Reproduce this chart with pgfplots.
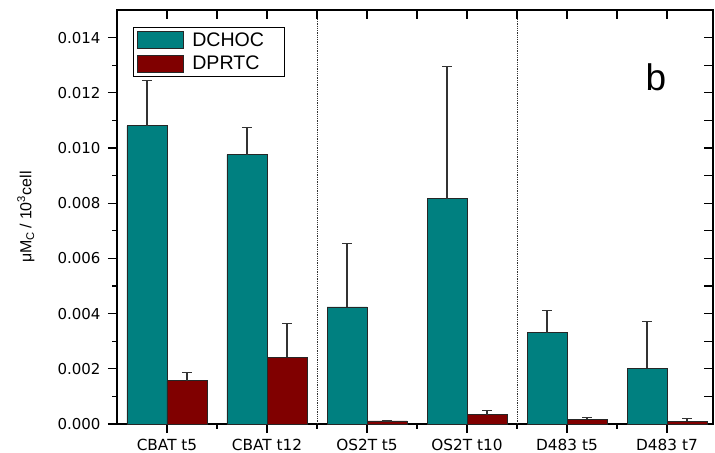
\documentclass[border=0pt]{standalone}
\usepackage{fontspec}
\setmainfont{DejaVu Sans}
\newfontfamily\arial{Liberation Sans}
\usepackage{pgfplots}
\pgfplotsset{compat=1.18}
\definecolor{tealbar}{HTML}{008080}
\definecolor{redbar}{HTML}{800000}
\begin{document}
\begin{tikzpicture}
\path[use as bounding box] (-117bp,-29bp) rectangle (598bp,424bp);
\begin{axis}[
  at={(0,0)}, anchor=south west,
  scale only axis, width=596bp, height=414bp,
  xmin=-0.5, xmax=5.46, ymin=0, ymax=0.015,
  axis line style={line width=1.3bp},
  tick style={line width=1.2bp, black},
  tick align=outside,
  major tick length=9bp, minor tick length=4.5bp,
  xtick pos=bottom, ytick pos=left,
  xtick={0,1,2,3,4,5},
  xticklabels={CBAT t5, CBAT t12, OS2T t5, OS2T t10, D483 t5, D483 t7},
  minor xtick={0.5,1.5,2.5,3.5,4.5},
  ytick={0,0.002,0.004,0.006,0.008,0.010,0.012,0.014},
  minor ytick={0.001,0.003,0.005,0.007,0.009,0.011,0.013},
  scaled y ticks=false,
  /pgf/number format/assume math mode=true,
  yticklabel style={/pgf/number format/fixed, /pgf/number format/fixed zerofill, /pgf/number format/precision=3, xshift=-4bp, font=\fontsize{15bp}{18bp}\selectfont},
  xticklabel style={yshift=-2.5bp, font=\fontsize{15.3bp}{18bp}\selectfont},
  ylabel={\arial μM\textsubscript{C}\,/ 10\textsuperscript{3}cell},
  every axis y label/.style={at={(-91bp,207bp)}, rotate=90, anchor=center, font=\fontsize{16bp}{19bp}\selectfont},
  legend style={at={(16bp,397bp)}, anchor=north west, draw=black, line width=0.8bp,
    font=\arial\fontsize{19.6bp}{22bp}\selectfont, inner xsep=4bp, inner ysep=3bp,
    row sep=4.5bp},
  legend cell align=left,
  clip=false,
]
\addplot[ybar, bar width=40bp, bar shift=0pt, fill=tealbar, draw=black!85, line width=0.9bp,
  legend image code/.code={\draw[fill=tealbar, draw=black!85, line width=0.9bp] (0bp,-8.5bp) rectangle (46bp,8.5bp);},
  error bars/.cd, y dir=plus, y explicit,
  error bar style={line width=1.1bp, black!80},
  error mark options={line width=1.1bp, black!80, mark size=5bp, rotate=90}]
coordinates {
(-0.2,0.0108) +- (0,0.00165)
(0.8,0.00976) +- (0,0.00098)
(1.8,0.00424) +- (0,0.00229)
(2.8,0.00817) +- (0,0.00479)
(3.8,0.0033) +- (0,0.0008)
(4.8,0.00202) +- (0,0.00171)
};
\addlegendentry{\hspace*{6bp}DCHOC\hspace*{14bp}}
\addplot[ybar, bar width=40bp, bar shift=0pt, fill=redbar, draw=black!85, line width=0.9bp,
  legend image code/.code={\draw[fill=redbar, draw=black!85, line width=0.9bp] (0bp,-8.5bp) rectangle (46bp,8.5bp);},
  error bars/.cd, y dir=plus, y explicit,
  error bar style={line width=1.1bp, black!80},
  error mark options={line width=1.1bp, black!80, mark size=5bp, rotate=90}]
coordinates {
(0.2,0.00156) +- (0,0.00032)
(1.2,0.00241) +- (0,0.00123)
(2.2,0.00011) +- (0,0)
(3.2,0.00033) +- (0,0.00017)
(4.2,0.00017) +- (0,0.00007)
(5.2,0.0001) +- (0,0.00011)
};
\addlegendentry{\hspace*{6bp}DPRTC}
\addplot[densely dotted, black!80, line width=0.8bp, forget plot] coordinates {(1.5,0) (1.5,0.015)};
\addplot[densely dotted, black!80, line width=0.8bp, forget plot] coordinates {(3.5,0) (3.5,0.015)};
\node[font=\arial\fontsize{37bp}{40bp}\selectfont] at (axis cs:4.89,0.01257) {b};
\end{axis}
\begin{axis}[
  at={(0,0)}, anchor=south west,
  scale only axis, width=596bp, height=414bp,
  xmin=-0.5, xmax=5.46, ymin=0, ymax=0.015,
  axis x line*=top, axis y line*=right,
  axis line style={line width=1.3bp, -},
  tick style={line width=1.2bp, black},
  tick align=inside, major tick length=9bp,
  xtick={0,0.5,1,1.5,2,2.5,3,3.5,4,4.5,5},
  ytick={0.001,0.002,0.003,0.004,0.005,0.006,0.007,0.008,0.009,0.010,0.011,0.012,0.013,0.014},
  xticklabels={}, yticklabels={},
  scaled y ticks=false,
]
\addplot[draw=none, forget plot] coordinates {(0,0)};
\end{axis}
\end{tikzpicture}
\end{document}
